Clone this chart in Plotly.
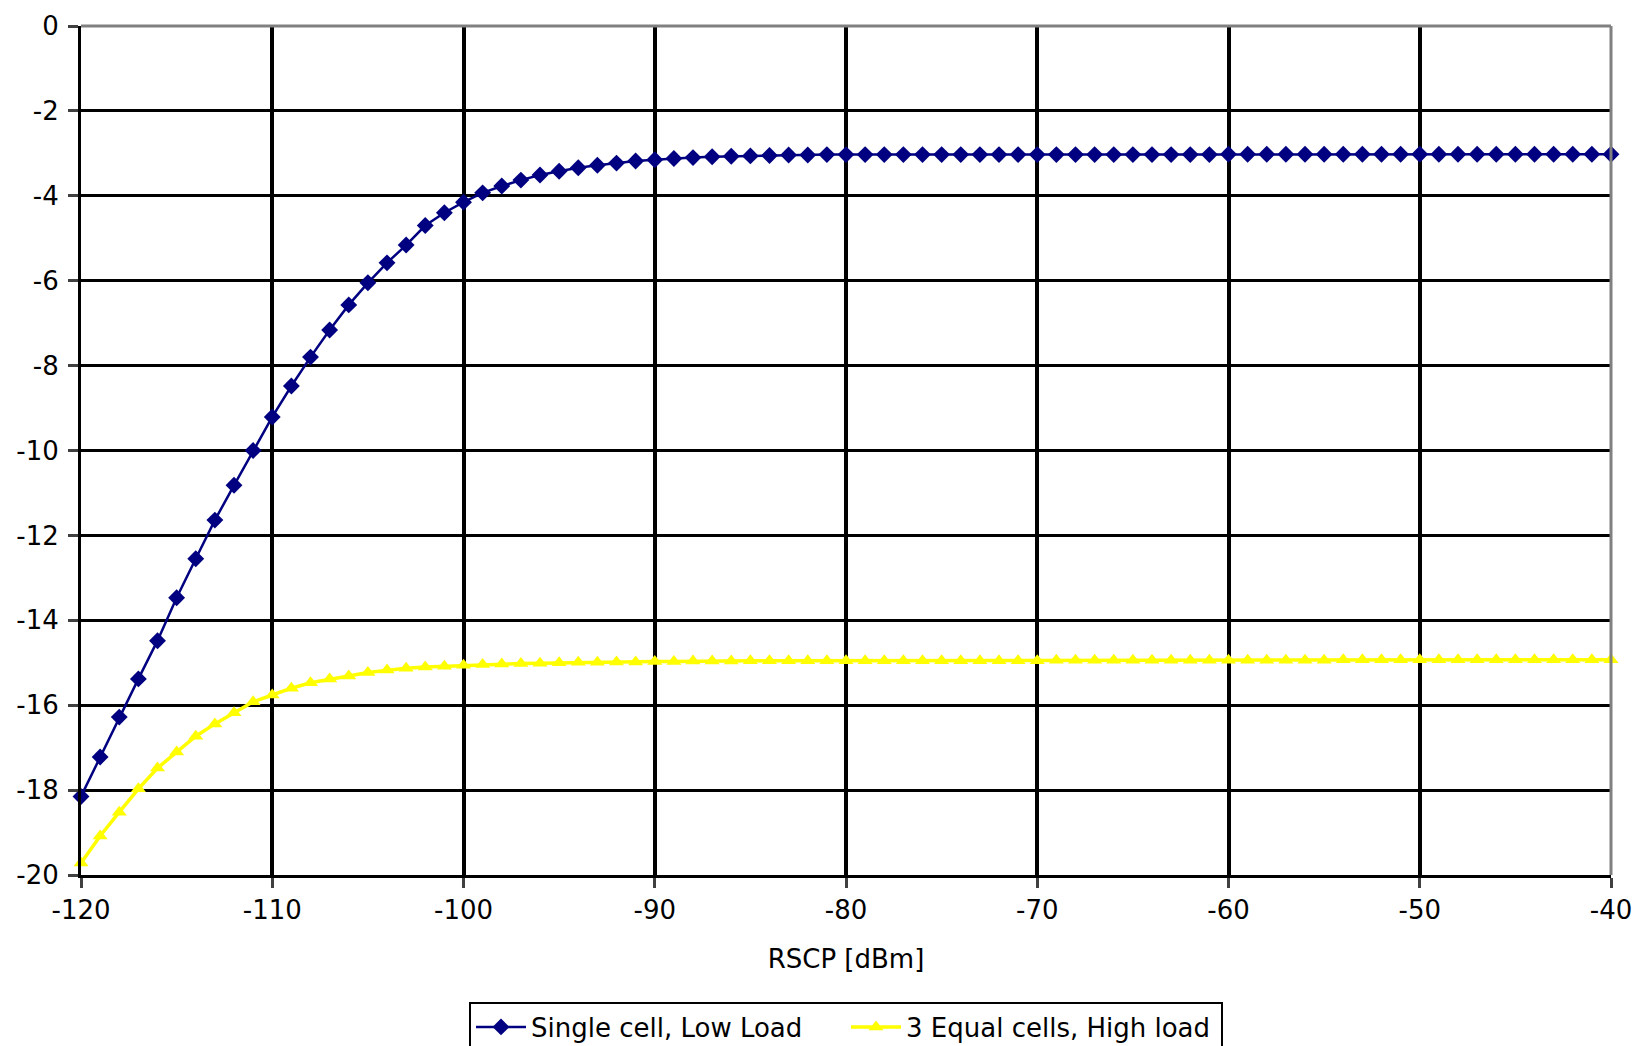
import plotly.graph_objects as go

rscp = [-120, -119, -118, -117, -116, -115, -114, -113, -112, -111,
        -110, -109, -108, -107, -106, -105, -104, -103, -102, -101,
        -100, -99, -98, -97, -96, -95, -94, -93, -92, -91,
        -90, -89, -88, -87, -86, -85, -84, -83, -82, -81,
        -80, -79, -78, -77, -76, -75, -74, -73, -72, -71,
        -70, -69, -68, -67, -66, -65, -64, -63, -62, -61,
        -60, -59, -58, -57, -56, -55, -54, -53, -52, -51,
        -50, -49, -48, -47, -46, -45, -44, -43, -42, -41, -40]

single_low = [-18.15, -17.22, -16.28, -15.38, -14.48, -13.47, -12.55, -11.64, -10.82, -10.0,
              -9.21, -8.48, -7.8, -7.16, -6.57, -6.05, -5.58, -5.16, -4.7, -4.4,
              -4.15, -3.93, -3.77, -3.63, -3.51, -3.42, -3.34, -3.28, -3.23, -3.18,
              -3.15, -3.12, -3.10, -3.08, -3.07, -3.06, -3.05, -3.04, -3.04, -3.03,
              -3.03, -3.03, -3.03, -3.03, -3.03, -3.03, -3.03, -3.03, -3.03, -3.03,
              -3.03, -3.03, -3.03, -3.03, -3.03, -3.03, -3.03, -3.03, -3.03, -3.03,
              -3.02, -3.02, -3.02, -3.02, -3.02, -3.02, -3.02, -3.02, -3.02, -3.02,
              -3.02, -3.02, -3.02, -3.02, -3.02, -3.02, -3.02, -3.02, -3.02, -3.02, -3.02]

three_high = [-19.72, -19.08, -18.52, -17.97, -17.48, -17.1, -16.73, -16.44, -16.18, -15.92,
              -15.76, -15.6, -15.47, -15.38, -15.31, -15.23, -15.17, -15.13, -15.1, -15.08,
              -15.06, -15.04, -15.03, -15.02, -15.01, -15.0, -14.99, -14.99, -14.98, -14.98,
              -14.97, -14.97, -14.96, -14.96, -14.96, -14.95, -14.95, -14.95, -14.95, -14.95,
              -14.95, -14.95, -14.95, -14.95, -14.95, -14.95, -14.95, -14.95, -14.95, -14.95,
              -14.95, -14.94, -14.94, -14.94, -14.94, -14.94, -14.94, -14.94, -14.94, -14.94,
              -14.94, -14.94, -14.94, -14.94, -14.94, -14.94, -14.93, -14.93, -14.93, -14.93,
              -14.93, -14.93, -14.93, -14.93, -14.93, -14.93, -14.93, -14.93, -14.93, -14.93, -14.93]

x_ticks = [-120, -110, -100, -90, -80, -70, -60, -50, -40]
x_tick_labels = ["-120", "-110", "-100", "-90", "-80", "-70", "-60", "-50", "-40"]
y_ticks = [0, -2, -4, -6, -8, -10, -12, -14, -16, -18, -20]
y_tick_labels = ["0", "-2", "-4", "-6", "-8", "-10", "-12", "-14", "-16", "-18", "-20"]

FONT = "DejaVu Sans, Arial, sans-serif"

fig = go.Figure()
fig.add_trace(go.Scatter(
    x=rscp, y=single_low, name="Single cell, Low Load", mode="lines+markers",
    line=dict(color="#000080", width=2.5),
    marker=dict(symbol="diamond", size=13, color="#000080"),
    cliponaxis=False,
))
fig.add_trace(go.Scatter(
    x=rscp, y=three_high, name="3 Equal cells, High load", mode="lines+markers",
    line=dict(color="#FFFF00", width=3.5),
    marker=dict(symbol="triangle-up", size=13, color="#FFFF00"),
    cliponaxis=False,
))

fig.update_layout(
    width=1636, height=1046,
    margin=dict(l=81, r=25, t=26, b=171, autoexpand=False),
    paper_bgcolor="white", plot_bgcolor="white",
    font=dict(family=FONT, size=26, color="black"),
    showlegend=True,
    legend=dict(
        orientation="h", x=0.5, xanchor="center", y=-0.149, yanchor="top",
        bordercolor="black", borderwidth=2, bgcolor="white",
        font=dict(family=FONT, size=26, color="black"),
        itemwidth=50, tracegroupgap=0,
        entrywidth=310, entrywidthmode="pixels",
    ),
    xaxis=dict(
        range=[-120, -40], tickvals=x_ticks, ticktext=x_tick_labels,
        showgrid=True, gridcolor="black", gridwidth=3.5,
        showline=True, linecolor="black", linewidth=3,
        ticks="outside", ticklen=10, tickwidth=3, tickcolor="#404040",
        zeroline=False,
        title=dict(text="RSCP [dBm]", font=dict(family=FONT, size=26), standoff=26),
    ),
    yaxis=dict(
        range=[-20, 0], tickvals=y_ticks, ticktext=y_tick_labels,
        showgrid=True, gridcolor="black", gridwidth=3,
        showline=True, linecolor="black", linewidth=3,
        ticks="outside", ticklen=10, tickwidth=3, tickcolor="#404040",
        ticklabelstandoff=4,
        zeroline=False,
    ),
    shapes=[
        dict(type="line", xref="paper", yref="paper", x0=0, x1=1, y0=1, y1=1,
             line=dict(color="#808080", width=3), layer="above"),
        dict(type="line", xref="paper", yref="paper", x0=1, x1=1, y0=0, y1=1,
             line=dict(color="#808080", width=3), layer="above"),
    ],
)

fig.write_html(
    "out.html",
    config={"displayModeBar": False},
    post_script="document.body.style.margin='0';document.body.style.padding='0';document.body.style.overflow='hidden';",
)
